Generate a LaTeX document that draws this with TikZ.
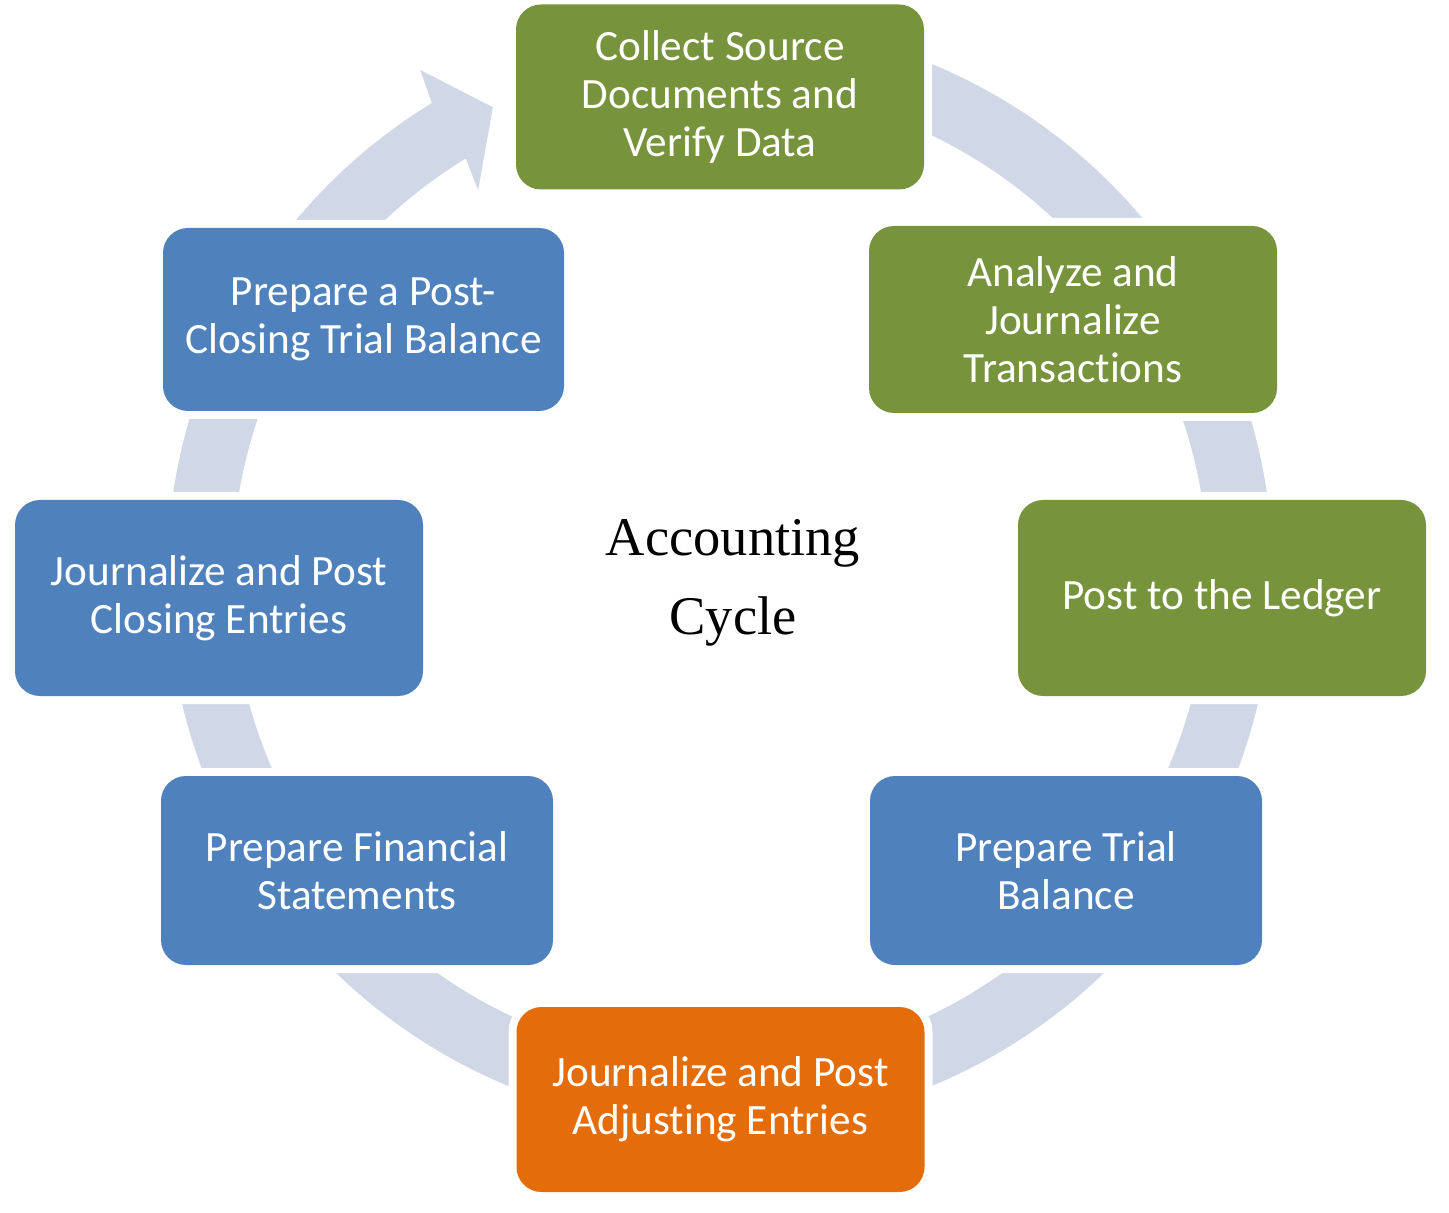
\documentclass[tikz,border=0pt]{standalone}
\usepackage{fontspec}
\setmainfont{Carlito}[Ligatures=NoCommon]
\newfontfamily\titlefont{Liberation Serif}
\definecolor{stepgreen}{HTML}{77933C}
\definecolor{stepblue}{HTML}{4F81BD}
\definecolor{steporange}{HTML}{E46C0A}
\definecolor{ringgray}{HTML}{D0D8E8}
\tikzset{
  stepbox/.style={rounded corners=0.5cm, text=white, align=center, inner sep=0pt,
    font=\fontsize{24.6}{27.3}\selectfont, preaction={draw=white, line width=0.32cm}},
  wide/.style={minimum width=8.16cm, minimum height=3.7cm},
  narrow/.style={minimum width=7.84cm, minimum height=3.78cm}
}
\begin{document}
\begin{tikzpicture}
  \useasboundingbox (0,0) rectangle (28.98,-24.26);

  \begin{scope}[shift={(14.4,-11.5)}]
    \fill[ringgray] (90:11.06) arc[start angle=90, end angle=-238.6, radius=11.06]
      -- (120.7:11.75) -- (115.9:10.4) -- (122.15:9.09) -- (121.4:9.76)
      arc[start angle=121.4, end angle=450, radius=9.76] -- cycle;
  \end{scope}

  \node[stepbox, wide, fill=stepgreen] (collect) at (14.4,-1.94) {Collect Source\\Documents and\\Verify Data};
  \node[stepbox, wide, fill=stepgreen, minimum height=3.74cm] (analyze) at (21.46,-6.39) {Analyze and\\Journalize\\Transactions};
  \node[stepbox, wide, fill=stepgreen, minimum height=3.92cm] (ledger) at (24.44,-11.96) {Post to the Ledger};
  \node[stepbox, narrow, fill=stepblue] (trial) at (21.32,-17.41) {Prepare Trial\\Balance};
  \node[stepbox, wide, fill=steporange] (adjust) at (14.41,-21.99) {Journalize and Post\\Adjusting Entries};
  \node[stepbox, narrow, fill=stepblue] (statements) at (7.14,-17.41) {Prepare Financial\\Statements};
  \node[stepbox, wide, fill=stepblue, minimum height=3.92cm] (closing) at (4.38,-11.96) {Journalize and Post\\Closing Entries};
  \node[stepbox, wide, fill=stepblue, minimum width=8.02cm, minimum height=3.66cm] (postclosing) at (7.27,-6.39) {Prepare a Post-\\Closing Trial Balance};

  \node[font=\titlefont\fontsize{31}{45}\selectfont, align=center] (title) at (14.66,-11.66) {Accounting\\Cycle};
\end{tikzpicture}
\end{document}
